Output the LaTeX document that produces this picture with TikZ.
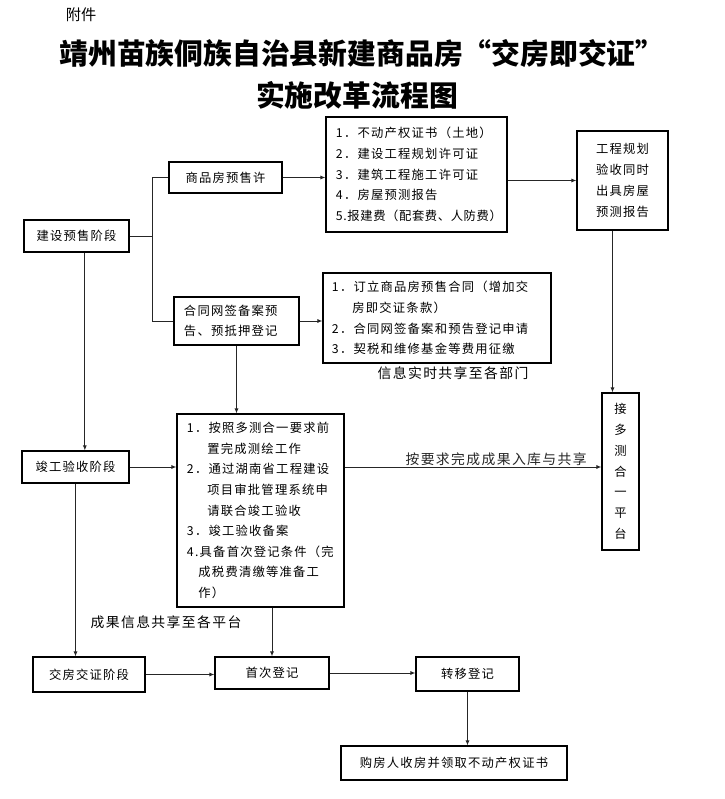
\documentclass[tikz,border=0pt]{standalone}
\usepackage{fontspec}
\setmainfont{Noto Sans CJK SC}
\newfontfamily\boxfont[LetterSpace=10]{Noto Sans CJK SC}
\newfontfamily\lblfont[LetterSpace=10]{Noto Sans CJK SC}
\usetikzlibrary{arrows.meta, positioning, calc}

\begin{document}
\begin{tikzpicture}[x=0.03cm, y=-0.03cm, >={Latex[length=1.5mm, width=1.2mm]},
	box/.style={draw, line width=0.9pt, inner sep=0pt, font=\boxfont\fontsize{10.5}{17.6}\selectfont},
	listbox/.style={box, align=left, inner xsep=3mm},
	lbl/.style={font=\lblfont\fontsize{11.8}{13}\selectfont, inner sep=1pt},
	ttl/.style={font=\bfseries\fontsize{24.6}{30}\selectfont},
	line/.style={line width=0.8pt, black!85},
	arr/.style={line, ->}]
	
	\useasboundingbox (0,0) rectangle (725,799);
	
	% ---------------------------------------------------------
	% Heading
	% ---------------------------------------------------------
	\node[font=\fontsize{13}{15}\selectfont] (fj) at (81,15) {附件};
	\node[ttl] (title1) at (362,54) {靖州苗族侗族自治县新建商品房“交房即交证”};
	\node[ttl] (title2) at (357,95) {实施改革流程图};
	
	% ---------------------------------------------------------
	% Stage 1: construction / presale
	% ---------------------------------------------------------
	\node[box, minimum width=105*0.3mm, minimum height=32*0.3mm] (jsys) at (76.5,236) {建设预售阶段};
	\node[box, minimum width=113*0.3mm, minimum height=31*0.3mm] (spf) at (225.5,177.5) {商品房预售许};
	\node[listbox, text width=105*0.3mm, minimum height=48*0.3mm] (htwq) at (236.5,321)
		{合同网签备案预\\告、预抵押登记};
	
	% Required documents
	\node[listbox, text width=161*0.3mm, minimum height=115*0.3mm] (list1) at (416.5,174.5)
		{1．不动产权证书（土地）\\
		 2．建设工程规划许可证\\
		 3．建筑工程施工许可证\\
		 4．房屋预测报告\\
		 \mbox{\addfontfeature{LetterSpace=5}5.报建费（配套费、人防费）}};
	\node[listbox, inner xsep=2.7mm, text width=210*0.3mm, minimum height=90*0.3mm] (list2) at (437,318)
		{1．订立商品房预售合同（增加交\\
		 \phantom{1．}房即交证条款）\\
		 2．合同网签备案和预告登记申请\\
		 3．契税和维修基金等费用征缴};
	\node[lbl] (xxgx) at (453,373) {信息实时共享至各部门};
	
	% Survey / platform
	\node[box, align=center, minimum width=91*0.3mm, minimum height=99*0.3mm,
		font=\boxfont\fontsize{10.5}{17.9}\selectfont] (gcgh) at (622.5,180.5)
		{工程规划\\验收同时\\出具房屋\\预测报告};
	\node[box, align=center, minimum width=37*0.3mm, minimum height=157*0.3mm,
		font=\boxfont\fontsize{10.5}{17.7}\selectfont] (dcpt) at (620.5,471.5)
		{接\\多\\测\\合\\一\\平\\台};
	
	% ---------------------------------------------------------
	% Stage 2: completion acceptance
	% ---------------------------------------------------------
	\node[box, minimum width=107*0.3mm, minimum height=32*0.3mm] (jgys) at (75.5,467) {竣工验收阶段};
	\node[listbox, text width=147*0.3mm, minimum height=193*0.3mm] (mid) at (260.5,510.5)
		{1．按照多测合一要求前\\
		 \phantom{1．}置完成测绘工作\\
		 2．通过湖南省工程建设\\
		 \phantom{1．}项目审批管理系统申\\
		 \phantom{1．}请联合竣工验收\\
		 3．竣工验收备案\\
		 4.具备首次登记条件（完\\
		 \phantom{4.}成税费清缴等准备工\\
		 \phantom{4.}作）};
	\node[lbl] (cgxx) at (166,622) {成果信息共享至各平台};
	
	% ---------------------------------------------------------
	% Stage 3: handover / certificates
	% ---------------------------------------------------------
	\node[box, minimum width=112*0.3mm, minimum height=35*0.3mm] (jfjz) at (89,674.5) {交房交证阶段};
	\node[box, minimum width=114*0.3mm, minimum height=32*0.3mm] (scdj) at (272,673) {首次登记};
	\node[box, minimum width=103*0.3mm, minimum height=34*0.3mm] (zydj) at (467.5,674) {转移登记};
	\node[box, minimum width=226*0.3mm, minimum height=34*0.3mm] (gfr) at (454,763) {购房人收房并领取不动产权证书};
	
	% ---------------------------------------------------------
	% Connectors
	% ---------------------------------------------------------
	\coordinate (br) at (152,236);
	\draw[line] (jsys.east) -- (br);
	\draw[line] (spf.west) -| (br);
	\draw[line] (htwq.west) -| (br);
	
	\draw[arr] (spf.east) -- (spf.east -| list1.west);
	\draw[arr] (gcgh.west -| list1.east) -- (gcgh.west);
	\draw[arr] (htwq.east) -- (htwq.east -| list2.west);
	\draw[arr] ([xshift=-3mm]gcgh.south) -- ([xshift=-3mm]gcgh.south |- dcpt.north);
	\draw[arr] (htwq.south) -- (htwq.south |- mid.north);
	\draw[arr] ([xshift=2.5mm]jsys.south) -- ([xshift=2.5mm]jsys.south |- jgys.north);
	
	\draw[arr] (jgys.east) -- (jgys.east -| mid.west);
	\draw[arr] (mid.east |- jgys.east) -- (dcpt.west |- jgys.east)
		node[lbl, above, pos=0.59] (rkgx) {按要求完成成果入库与共享};
	\draw[arr] (jgys.south) -- (jgys.south |- jfjz.north);
	\draw[arr] (scdj.north |- mid.south) -- (scdj.north);
	
	\draw[arr] (jfjz.east) -- (jfjz.east -| scdj.west);
	\draw[arr] (scdj.east) -- (scdj.east -| zydj.west);
	\draw[arr] (zydj.south) -- (zydj.south |- gfr.north);
	
\end{tikzpicture}
\end{document}
